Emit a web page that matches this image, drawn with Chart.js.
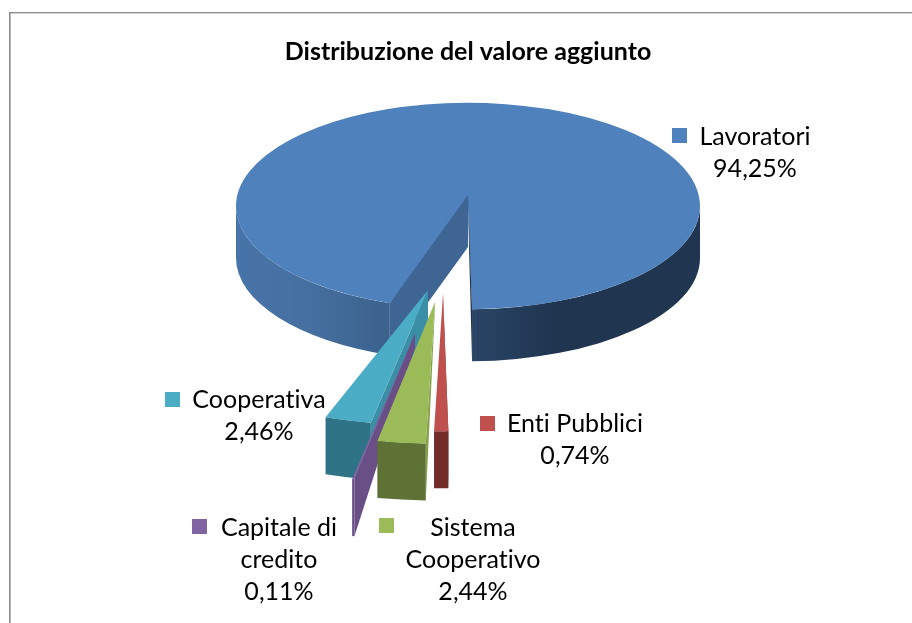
<!DOCTYPE html>
<html><head><meta charset="utf-8">
<style>html,body{margin:0;padding:0;background:#fff;overflow:hidden}#w{width:912px;height:623px}</style>
<script src="https://cdn.jsdelivr.net/npm/chart.js@4/dist/chart.umd.min.js"></script>
</head><body><div id="w"><canvas id="c" width="912" height="623"></canvas></div>
<script>
const titleText = 'Distribuzione del valore aggiunto';
const categories = ['Lavoratori', 'Enti Pubblici', 'Sistema Cooperativo', 'Capitale di credito', 'Cooperativa'];
const shares = [94.25, 0.74, 2.44, 0.11, 2.46];

// styles
const topColors = ['#4f81bd', '#c0504d', '#9bbb59', '#8064a2', '#4bacc6'];
const frontColors = [null, '#722d2b', '#5f7236', '#6a4f87', '#2f7386'];
const sideColors = [null, '#8e3a38', '#86a04b', '#6a4f87', '#3a8ea5'];
const labelFont = '25px Lato, sans-serif';
const labelLayouts = [
  {lines:['Lavoratori'], cx:755, y:137, box:[672,128]},
  {lines:['Enti Pubblici'], cx:575, y:424, box:[480,416]},
  {lines:['Sistema','Cooperativo'], cx:473, y:528, box:[379,518]},
  {lines:['Capitale di','credito'], cx:279, y:528, box:[192,519]},
  {lines:['Cooperativa'], cx:259, y:400, box:[165,392]}
];
// 3D view: vertical squash, extrusion and the pull-out of each slice
const squash = 0.445, depth = 52, apexLift = 11;
const pullOut = [null, [-25,88], [-33,96], [-53,127], [-40,84]];
const pullScale = [1, 1.33, 1.37, 1.44, 1.31];
const pullDepth = 57;
const pullApexDepth = [0, 5, 5, 15, 41];

function poly(ctx, pts, fill){
  ctx.beginPath(); pts.forEach((p,i)=> i?ctx.lineTo(p[0],p[1]):ctx.moveTo(p[0],p[1]));
  ctx.closePath(); ctx.fillStyle = fill; ctx.fill();
}
function wall(ctx, cx, cy, rx, ry, d, a, b, fill){
  ctx.beginPath();
  ctx.ellipse(cx, cy, rx, ry, 0, a, b);
  ctx.ellipse(cx, cy+d, rx, ry, 0, b, a, true);
  ctx.closePath(); ctx.fillStyle = fill; ctx.fill();
}
function topFace(ctx, el, ax, ay, s){
  ctx.save();
  ctx.translate(ax, ay); ctx.scale(s, s*squash); ctx.translate(-el.x, -el.y);
  el.draw(ctx);
  ctx.restore();
}
const view3d = {
  id:'view3d',
  beforeDraw(chart){
    const ctx = chart.ctx;
    ctx.save();
    ctx.fillStyle='#fff'; ctx.fillRect(0,0,chart.width,chart.height);
    ctx.fillStyle='#8c8c8c';
    ctx.fillRect(9,12,1.6,chart.height-12);
    ctx.fillRect(9,12,chart.width-9,1.4);
    ctx.restore();
  },
  beforeDatasetsDraw(chart){
    const ctx = chart.ctx, els = chart.getDatasetMeta(0).data;
    const m = els[0], R = m.outerRadius, ry = R*squash, cx = m.x, cy = m.y;
    const end = m.endAngle, start = m.startAngle + Math.PI*2;
    const pt = (a)=>[cx+R*Math.cos(a), cy+ry*Math.sin(a)];
    // main slice, side walls
    let g = ctx.createLinearGradient(cx,0,cx+R,0);
    g.addColorStop(0,'#2b4668'); g.addColorStop(0.38,'#1f3550'); g.addColorStop(1,'#1f3550');
    wall(ctx,cx,cy,R,ry,depth,0,end,g);
    g = ctx.createLinearGradient(cx-R,0,pt(start)[0],0);
    g.addColorStop(0,'#4774a9'); g.addColorStop(0.5,'#456f9f'); g.addColorStop(1,'#3b618c');
    wall(ctx,cx,cy,R,ry,depth,start,Math.PI,g);
    topFace(ctx,m,cx,cy,1);
    // walls along the two cuts
    const ap = [cx, cy-apexLift], L = pt(start), Rp = pt(end);
    poly(ctx,[ap,L,[L[0],L[1]+depth],[ap[0],ap[1]+depth]],'#3e6593');
    poly(ctx,[ap,Rp,[Rp[0],Rp[1]+depth],[ap[0]+1,ap[1]+depth]],'#1f3550');
    // pulled-out slices, back to front
    [4,3,2,1].forEach(i=>{
      const el = els[i], s = pullScale[i], rx = R*s, ryy = rx*squash;
      const ax = cx+pullOut[i][0], ay = cy+pullOut[i][1];
      const a = el.startAngle, b = el.endAngle;
      const sp = [ax+rx*Math.cos(a), ay+ryy*Math.sin(a)];
      poly(ctx,[[ax,ay],sp,[sp[0],sp[1]+pullDepth],[ax,ay+pullApexDepth[i]]],sideColors[i]);
      wall(ctx,ax,ay,rx,ryy,pullDepth,a,b,frontColors[i]);
      topFace(ctx,el,ax,ay,s);
    });
    return false;
  },
  afterDraw(chart){
    const ctx = chart.ctx;
    ctx.save();
    ctx.font = labelFont; ctx.textAlign='center'; ctx.textBaseline='middle';
    ctx.letterSpacing = '0.01px';
    labelLayouts.forEach((l,i)=>{
      ctx.fillStyle = topColors[i]; ctx.fillRect(l.box[0],l.box[1],15,15);
      ctx.fillStyle = '#000';
      const lines = l.lines.concat(shares[i].toFixed(2).replace('.',',')+'%');
      lines.forEach((t,j)=>ctx.fillText(t,l.cx,l.y+j*32.2));
    });
    ctx.restore();
  }
};
new Chart(document.getElementById('c'),{
  type:'pie',
  data:{labels:categories,datasets:[{data:shares,backgroundColor:topColors,borderWidth:0}]},
  options:{
    responsive:false,animation:false,rotation:-160.3,radius:232,
    layout:{padding:{left:24,top:0,right:0,bottom:287}},
    plugins:{
      legend:{display:false},tooltip:{enabled:false},
      title:{display:true,text:titleText,color:'#000',font:{family:'Lato, sans-serif',size:25,weight:'bold'},padding:{top:37,bottom:9}}
    }
  },
  plugins:[view3d]
});
</script></body></html>
